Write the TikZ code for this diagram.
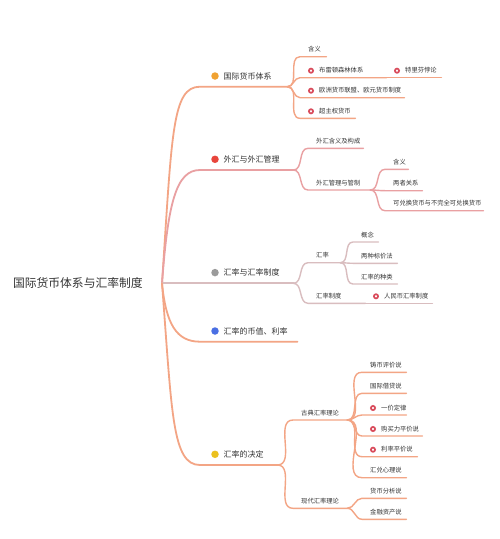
\documentclass[tikz,border=0pt]{standalone}
\usepackage{fontspec}
\setmainfont{Noto Sans CJK SC}
\usetikzlibrary{positioning}

\definecolor{linea}{HTML}{F3A585}
\definecolor{lineb}{HTML}{E9A0A2}
\definecolor{linec}{HTML}{D9BDBF}
\definecolor{dota}{HTML}{F0A232}
\definecolor{dotb}{HTML}{E8453C}
\definecolor{dotc}{HTML}{9B9B9B}
\definecolor{dotd}{HTML}{4A6FE3}
\definecolor{dote}{HTML}{EBC11F}
\definecolor{ringc}{HTML}{D94B5B}
\definecolor{txt}{HTML}{333333}

\begin{document}
\begin{tikzpicture}[x=1pt, y=-1pt,
  every node/.style={text=txt},
  root/.style={inner xsep=0pt, font=\fontsize{11.8}{14}\selectfont},
  topic/.style={anchor=south west, inner xsep=0pt, inner ysep=3.6pt, text depth=1pt, text width=#1, align=left, font=\fontsize{6.3}{7.5}\selectfont},
  leaf/.style={topic=#1, execute at begin node=\noindent\hspace*{8pt}},
  iconleaf/.style={topic=#1, execute at begin node=\noindent\hspace*{19pt},
    append after command={node[ring] at ([xshift=11pt, yshift=7pt]\tikzlastnode.south west) {}}},
  branch/.style 2 args={topic=#1, inner ysep=5.5pt, text depth=2pt, font=\fontsize{8}{9.6}\selectfont,
    execute at begin node=\noindent\hspace*{23.5pt},
    append after command={node[dot, fill=#2] at ([xshift=15pt, yshift=10.7pt]\tikzlastnode.south west) {}}},
  dot/.style={circle, inner sep=0pt, minimum size=7.5pt},
  ring/.style={circle, draw=ringc, line width=1.7pt, fill=white, inner sep=0pt, minimum size=4.2pt},
  trunk/.style={draw=#1, line width=1.8pt, line cap=round},
  twig/.style={draw=#1, line width=1.4pt, line cap=round}]
  \fill[white] (0,0) rectangle (500,539);
  \useasboundingbox (0,0) rectangle (500,539);

  \node[root, anchor=east] (root) at (143,283.3) {国际货币体系与汇率制度};
  \coordinate[right=19pt of root] (hub);

  % main branches
  \node[branch={87}{dota}] (b1) at (200,86.7) {国际货币体系};
  \node[branch={93}{dotb}] (b2) at (200,170) {外汇与外汇管理};
  \node[branch={93}{dotc}] (b3) at (200,283.3) {汇率与汇率制度};
  \node[branch={97}{dotd}] (b4) at (200,341.7) {汇率的币值、利率};
  \node[branch={77}{dote}] (b5) at (200,465) {汇率的决定};

  \draw[trunk=linea] (hub) .. controls +(10,-150) and +(-28,0) .. (b1.south west) -- (b1.south east);
  \draw[trunk=lineb] (hub) .. controls +(6,-80) and +(-24,0) .. (b2.south west) -- (b2.south east);
  \draw[trunk=linec] (hub) -- (b3.south west) -- (b3.south east);
  \draw[trunk=linea] (hub) .. controls +(4,40) and +(-24,0) .. (b4.south west) -- (b4.south east);
  \draw[trunk=linea] (hub) .. controls +(10,130) and +(-28,0) .. (b5.south west) -- (b5.south east);

  % 国际货币体系
  \node[leaf=26] (n11) at (300,56.7) {含义};
  \node[iconleaf=86] (n12) at (300,77.7) {布雷顿森林体系};
  \node[iconleaf=55] (n121) at (386,77.7) {特里芬悖论};
  \node[iconleaf=104] (n13) at (300,97.7) {欧洲货币联盟、欧元货币制度};
  \node[iconleaf=55] (n14) at (300,118.3) {超主权货币};
  \draw[twig=linea] (b1.south east) to[out=0,in=180] (n11.south west) -- (n11.south east);
  \draw[twig=linea] (b1.south east) to[out=0,in=180] (n12.south west) -- (n12.south east);
  \draw[twig=linea] (n12.south east) -- (n121.south east);
  \draw[twig=linea] (b1.south east) to[out=0,in=180] (n13.south west) -- (n13.south east);
  \draw[twig=linea] (b1.south east) to[out=0,in=180] (n14.south west) -- (n14.south east);

  % 外汇与外汇管理
  \node[leaf=55] (n21) at (308,148.3) {外汇含义及构成};
  \node[leaf=62] (n22) at (308,190) {外汇管理与管制};
  \node[leaf=23] (n221) at (385,169.3) {含义};
  \node[leaf=37] (n222) at (385,190.7) {两者关系};
  \node[leaf=98] (n223) at (385,210.7) {可兑换货币与不完全可兑换货币};
  \draw[twig=lineb] (b2.south east) to[out=0,in=180] (n21.south west) -- (n21.south east);
  \draw[twig=lineb] (b2.south east) to[out=0,in=180] (n22.south west) -- (n22.south east);
  \draw[twig=lineb] (n22.south east) to[out=0,in=180] (n221.south west) -- (n221.south east);
  \draw[twig=lineb] (n22.south east) to[out=0,in=180] (n222.south west) -- (n222.south east);
  \draw[twig=lineb] (n22.south east) to[out=0,in=180] (n223.south west) -- (n223.south east);

  % 汇率与汇率制度
  \node[leaf=32] (n31) at (308,262.7) {汇率};
  \node[leaf=25] (n311) at (353,242) {概念};
  \node[leaf=44] (n312) at (353,263.3) {两种标价法};
  \node[leaf=44] (n313) at (353,284) {汇率的种类};
  \node[leaf=57] (n32) at (308,303.3) {汇率制度};
  \node[iconleaf=67] (n321) at (365,303.3) {人民币汇率制度};
  \draw[twig=linec] (b3.south east) to[out=0,in=180] (n31.south west) -- (n31.south east);
  \draw[twig=linec] (n31.south east) to[out=0,in=180] (n311.south west) -- (n311.south east);
  \draw[twig=linec] (n31.south east) to[out=0,in=180] (n312.south west) -- (n312.south east);
  \draw[twig=linec] (n31.south east) to[out=0,in=180] (n313.south west) -- (n313.south east);
  \draw[twig=linec] (b3.south east) to[out=0,in=180] (n32.south west) -- (n32.south east);
  \draw[twig=linec] (n32.south east) -- (n321.south east);

  % 汇率的决定
  \node[leaf=54] (n51) at (293,420) {古典汇率理论};
  \node[leaf=44] (n511) at (362,372.3) {铸币评价说};
  \node[leaf=44] (n512) at (362,393.3) {国际借贷说};
  \node[iconleaf=44] (n513) at (362,415) {一价定律};
  \node[iconleaf=60] (n514) at (362,436) {购买力平价说};
  \node[iconleaf=55] (n515) at (362,456.7) {利率平价说};
  \node[leaf=44] (n516) at (362,477.7) {汇兑心理说};
  \node[leaf=54] (n52) at (293,508.3) {现代汇率理论};
  \node[leaf=44] (n521) at (362,498.3) {货币分析说};
  \node[leaf=44] (n522) at (362,519.3) {金融资产说};
  \draw[twig=linea] (b5.south east) to[out=0,in=180] (n51.south west) -- (n51.south east);
  \draw[twig=linea] (n51.south east) to[out=0,in=180] (n511.south west) -- (n511.south east);
  \draw[twig=linea] (n51.south east) to[out=0,in=180] (n512.south west) -- (n512.south east);
  \draw[twig=linea] (n51.south east) to[out=0,in=180] (n513.south west) -- (n513.south east);
  \draw[twig=linea] (n51.south east) to[out=0,in=180] (n514.south west) -- (n514.south east);
  \draw[twig=linea] (n51.south east) to[out=0,in=180] (n515.south west) -- (n515.south east);
  \draw[twig=linea] (n51.south east) to[out=0,in=180] (n516.south west) -- (n516.south east);
  \draw[twig=linea] (b5.south east) to[out=0,in=180] (n52.south west) -- (n52.south east);
  \draw[twig=linea] (n52.south east) to[out=0,in=180] (n521.south west) -- (n521.south east);
  \draw[twig=linea] (n52.south east) to[out=0,in=180] (n522.south west) -- (n522.south east);
\end{tikzpicture}
\end{document}
